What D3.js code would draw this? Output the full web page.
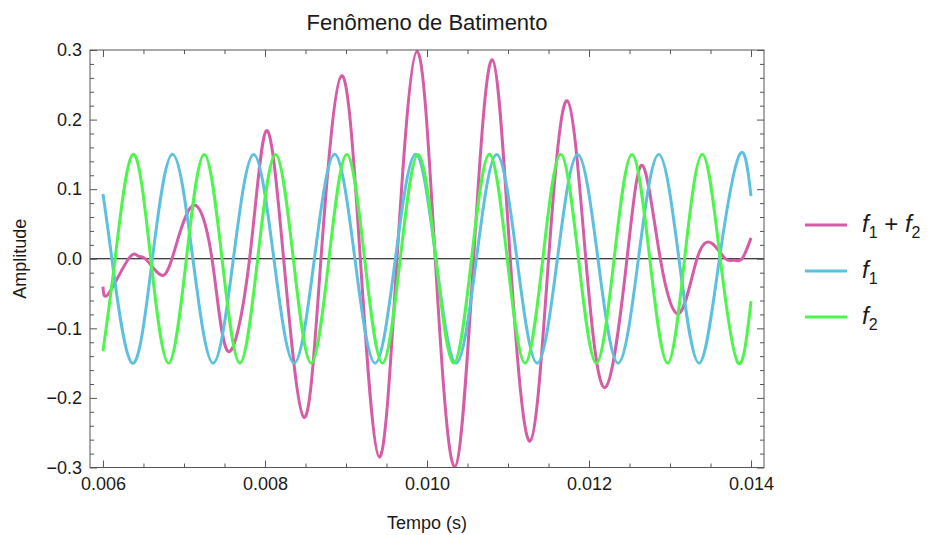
<!DOCTYPE html>
<html>
<head>
<meta charset="utf-8">
<script src="https://cdnjs.cloudflare.com/ajax/libs/d3/7.8.5/d3.min.js"></script>
<style>
    body { margin: 0; background: #fff; }
    text { font-family: "Liberation Sans", Arial, sans-serif; fill: #1a1a1a; }
</style>
</head>
<body>
<svg id="chart" width="932" height="535"></svg>
<script>
// leituras do gráfico (tempo em s, amplitude)
let f1Time = [0.006, 0.00611, 0.00636, 0.00661, 0.00686, 0.00711, 0.00736, 0.00761, 0.00786, 0.00811,
    0.00836, 0.00861, 0.00886, 0.00911, 0.00936, 0.00961, 0.00986, 0.01011, 0.01036, 0.01061,
    0.01086, 0.01111, 0.01136, 0.01161, 0.01186, 0.01211, 0.01236, 0.01261, 0.01286, 0.01311,
    0.01336, 0.01361, 0.01386, 0.014];
let f1Amp = [0.093, 0, -0.15, 0, 0.15, 0, -0.15, 0, 0.15, 0,
    -0.15, 0, 0.15, 0, -0.15, 0, 0.15, 0, -0.15, 0,
    0.15, 0, -0.15, 0, 0.15, 0, -0.15, 0, 0.15, 0,
    -0.15, 0, 0.15, 0.09];

let f2Time = [0.006, 0.00615, 0.00637, 0.00659, 0.00681, 0.00703, 0.00725, 0.00747, 0.00769, 0.00791,
    0.00813, 0.00835, 0.00857, 0.00879, 0.00901, 0.00923, 0.00945, 0.00967, 0.00989, 0.01011,
    0.01033, 0.01055, 0.01077, 0.01099, 0.01121, 0.01143, 0.01165, 0.01187, 0.01209, 0.01231,
    0.01253, 0.01275, 0.01297, 0.01318, 0.0134, 0.01362, 0.01384, 0.014];
let f2Amp = [-0.133, 0, 0.15, 0, -0.15, 0, 0.15, 0, -0.15, 0,
    0.15, 0, -0.15, 0, 0.15, 0, -0.15, 0, 0.15, 0,
    -0.15, 0, 0.15, 0, -0.15, 0, 0.15, 0, -0.15, 0,
    0.15, 0, -0.15, 0, 0.15, 0, -0.15, -0.061];

let sumTime = [0.006, 0.006069, 0.006316, 0.006432, 0.006522, 0.006695, 0.006852, 0.007102, 0.007346, 0.007543,
    0.00781, 0.008016, 0.00823, 0.008481, 0.008691, 0.008946, 0.009177, 0.009411, 0.00963, 0.009877,
    0.010102, 0.010341, 0.010575, 0.010806, 0.011028, 0.011272, 0.011501, 0.011732, 0.01196, 0.012201,
    0.012469, 0.012662, 0.01288, 0.013119, 0.013333, 0.013519, 0.013683, 0.013794, 0.013889, 0.014];
let sumAmp = [-0.04, -0.05, 0, 0.004, 0, -0.022, 0, 0.076, 0, -0.133,
    0, 0.184, 0, -0.228, 0, 0.263, 0, -0.285, 0, 0.298,
    0, -0.299, 0, 0.286, 0, -0.262, 0, 0.227, 0, -0.185,
    0, 0.134, 0, -0.078, 0, 0.022, 0, -0.002, 0, 0.03];

let xTicks = [0.006, 0.008, 0.010, 0.012, 0.014];
let yTicks = [-0.3, -0.2, -0.1, 0.0, 0.1, 0.2, 0.3];

let series = [
    {name: 'soma', time: sumTime, amp: sumAmp, color: '#d65ca8'},
    {name: 'f1', time: f1Time, amp: f1Amp, color: '#5cc0de'},
    {name: 'f2', time: f2Time, amp: f2Amp, color: '#4df54d'}
];

let plotL = 90, plotR = 764, plotT = 50, plotB = 467.5;
let svg = d3.select('#chart');

let x = d3.scaleLinear()
    .domain([0.006 - 0.00016, 0.014 + 0.00016])
    .range([plotL, plotR]);
let y = d3.scaleLinear()
    .domain([-0.3, 0.3])
    .range([plotB, plotT]);

svg.append('clipPath').attr('id', 'area')
    .append('rect')
    .attr('x', plotL).attr('y', plotT)
    .attr('width', plotR - plotL).attr('height', plotB - plotT);

// linha do zero
svg.append('line')
    .attr('x1', plotL).attr('x2', plotR)
    .attr('y1', y(0)).attr('y2', y(0))
    .attr('stroke', '#000').attr('stroke-width', 1);

let line = d3.line()
    .x(d => x(d[0]))
    .y(d => y(d[1]))
    .curve(d3.curveNatural);

svg.append('g').attr('clip-path', 'url(#area)')
    .selectAll('path')
    .data(series)
    .enter().append('path')
    .attr('d', s => line(s.time.map((t, i) => [t, s.amp[i]])))
    .attr('fill', 'none')
    .attr('stroke', s => s.color)
    .attr('stroke-width', 3)
    .attr('stroke-linejoin', 'round');

// moldura e marcas
let xMinor = d3.range(0.006, 0.01401, 0.0005).filter(v => !xTicks.some(t => Math.abs(t - v) < 1e-9));
let yMinor = d3.range(-0.3, 0.3001, 0.02).filter(v => !yTicks.some(t => Math.abs(t - v) < 1e-9));

function frameAxis(axisFn, scale, major, minor, transform, fmt, pad) {
    let g = svg.append('g').attr('transform', transform);
    g.call(axisFn(scale).tickValues(major).tickSize(-7).tickPadding(pad).tickFormat(fmt));
    g.append('g').call(axisFn(scale).tickValues(minor).tickSize(-4).tickFormat(''));
    g.selectAll('.domain').remove();
    g.selectAll('line').attr('stroke', '#555');
    g.selectAll('text')
        .style('font-family', '"Liberation Sans", Arial, sans-serif')
        .style('font-size', '18px')
        .attr('fill', '#1a1a1a');
    return g;
}

frameAxis(d3.axisBottom, x, xTicks, xMinor, `translate(0,${plotB})`, d3.format('.3f'), 10);
frameAxis(d3.axisTop, x, xTicks, xMinor, `translate(0,${plotT})`, () => '', 8);
frameAxis(d3.axisLeft, y, yTicks, yMinor, `translate(${plotL},0)`, d3.format('.1f'), 8);
frameAxis(d3.axisRight, y, yTicks, yMinor, `translate(${plotR},0)`, () => '', 8);

svg.append('rect')
    .attr('x', plotL).attr('y', plotT)
    .attr('width', plotR - plotL).attr('height', plotB - plotT)
    .attr('fill', 'none').attr('stroke', '#555').attr('stroke-width', 1);

// títulos
svg.append('text')
    .attr('x', (plotL + plotR) / 2).attr('y', 30)
    .attr('text-anchor', 'middle')
    .style('font-size', '22px')
    .text('Fenômeno de Batimento');

svg.append('text')
    .attr('x', (plotL + plotR) / 2).attr('y', 529)
    .attr('text-anchor', 'middle')
    .style('font-size', '18px')
    .text('Tempo (s)');

svg.append('text')
    .attr('transform', `translate(26,${(plotT + plotB) / 2}) rotate(-90)`)
    .attr('text-anchor', 'middle')
    .style('font-size', '18px')
    .text('Amplitude');

// legenda
let legendRows = [
    {parts: [['f', 'i'], ['1', 's'], [' + ', 'n'], ['f', 'i'], ['2', 's']], color: series[0].color},
    {parts: [['f', 'i'], ['1', 's']], color: series[1].color},
    {parts: [['f', 'i'], ['2', 's']], color: series[2].color}
];

let legend = svg.append('g')
    .selectAll('g')
    .data(legendRows)
    .enter().append('g')
    .attr('transform', (d, i) => `translate(805,${225 + i * 46})`);

legend.append('line')
    .attr('x1', 0).attr('x2', 42)
    .attr('stroke', d => d.color)
    .attr('stroke-width', 3);

let label = legend.append('text')
    .attr('x', 57).attr('y', 7)
    .style('font-size', '24px');

label.each(function (d) {
    let t = d3.select(this);
    let down = false;
    d.parts.forEach(p => {
        let span = t.append('tspan').text(p[0]);
        if (p[1] === 'i') span.style('font-style', 'italic');
        if (p[1] === 's') {
            span.attr('dy', 6).style('font-size', '16px');
            down = true;
        } else if (down) {
            span.attr('dy', -6);
            down = false;
        }
    });
});
</script>
</body>
</html>
